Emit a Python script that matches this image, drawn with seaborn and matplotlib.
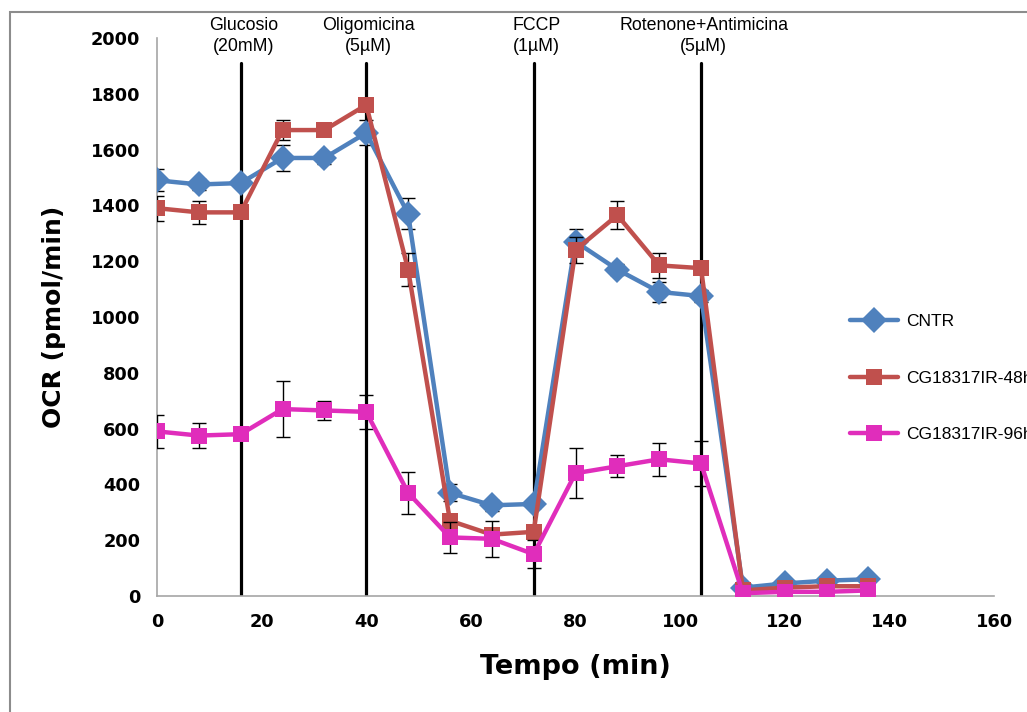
import matplotlib
matplotlib.use("Agg")
import matplotlib.pyplot as plt
import seaborn as sns
import pandas as pd
from matplotlib.patches import Rectangle
from matplotlib.lines import Line2D

time = [0, 8, 16, 24, 32, 40, 48, 56, 64, 72, 80, 88, 96, 104, 112, 120, 128, 136]
cntr = [1490, 1475, 1480, 1570, 1570, 1660, 1370, 370, 325, 330, 1270, 1170, 1090, 1075, 30, 45, 55, 60]
cntr_err = [40, 20, 15, 45, 20, 45, 55, 30, 20, 15, 45, 20, 35, 20, 5, 5, 5, 5]
cg48 = [1390, 1375, 1375, 1670, 1670, 1760, 1170, 270, 220, 230, 1240, 1365, 1185, 1175, 20, 30, 35, 35]
cg48_err = [45, 40, 15, 35, 15, 20, 60, 20, 20, 15, 45, 50, 45, 20, 5, 5, 5, 5]
cg96 = [590, 575, 580, 670, 665, 660, 370, 210, 205, 150, 440, 465, 490, 475, 10, 15, 15, 20]
cg96_err = [60, 45, 20, 100, 35, 60, 75, 55, 65, 50, 90, 40, 60, 80, 5, 5, 5, 5]

series_names = ["CNTR", "CG18317IR-48h", "CG18317IR-96h"]
colors = ["#4F81BD", "#C0504D", "#E02DBB"]
markers = ["D", "s", "s"]
msizes = [13, 12, 12]

injections = [16, 40, 72, 104]
inj_labels = ["Glucosio\n(20mM)", "Oligomicina\n(5µM)", "FCCP\n(1µM)", "Rotenone+Antimicina\n(5µM)"]

sns.set_style("white")
plt.rcParams['font.family'] = ['DejaVu Sans']
plt.rcParams['text.color'] = 'black'
plt.rcParams['axes.labelcolor'] = 'black'
plt.rcParams['xtick.color'] = 'black'
plt.rcParams['ytick.color'] = 'black'

fig = plt.figure(figsize=(10.27, 7.12), dpi=100)
fig.patches.append(Rectangle((10/1027, -0.1), 1.2, 1 - 12/712 + 0.1, transform=fig.transFigure,
                             fill=False, edgecolor="#8c8c8c", linewidth=1.5))
ax = fig.add_axes([157/1027, 1 - 596/712, (994 - 157)/1027, (596 - 38)/712])

# injection lines
for xi in injections:
    ax.plot([xi, xi], [0, 1910], color="black", linewidth=2.3, zorder=1)

for i, (vals, errs) in enumerate([(cntr, cntr_err), (cg48, cg48_err), (cg96, cg96_err)]):
    df = pd.DataFrame({"Tempo": time, "OCR": vals})
    ax.errorbar(time, vals, yerr=errs, fmt="none", ecolor="black", elinewidth=1,
                capsize=5, capthick=1, zorder=2 + i * 2)
    sns.lineplot(data=df, x="Tempo", y="OCR", ax=ax, color=colors[i], linewidth=3.2,
                 marker=markers[i], markersize=msizes[i], markeredgewidth=0,
                 markeredgecolor=colors[i], zorder=3 + i * 2)

ax.set_xlim(0, 160)
ax.set_ylim(0, 2000)
ax.set_xticks(range(0, 161, 20))
ax.set_yticks(range(0, 2001, 200))
for s in ["top", "right"]:
    ax.spines[s].set_visible(False)
for s in ["left", "bottom"]:
    ax.spines[s].set_color("#a6a6a6")
    ax.spines[s].set_linewidth(1.2)
ax.tick_params(axis="both", which="both", direction="out", length=6, width=1,
               color="#a6a6a6", labelcolor="black", labelsize=12.8, pad=6)
for lab in ax.get_xticklabels() + ax.get_yticklabels():
    lab.set_fontweight("bold")
ax.set_xlabel("Tempo (min)", fontsize=19.5, fontweight="bold", labelpad=17, color="black")
ax.set_ylabel("OCR (pmol/min)", fontsize=18, fontweight="bold", labelpad=18, color="black")

for xi, lab in zip(injections, inj_labels):
    ax.text(xi + 0.5, 0.970, lab, transform=ax.get_xaxis_transform(), ha="center", va="bottom",
            fontsize=12.8, family="Liberation Sans", linespacing=1.25, clip_on=False, color="black")

handles = [Line2D([], [], color=c, marker=m, markersize=ms, linewidth=3.2, markeredgewidth=0)
           for c, m, ms in zip(colors, markers, msizes)]
leg = fig.legend(handles, series_names, loc="upper left", bbox_to_anchor=(834/1027, 1 - 298/712),
                 frameon=False, prop={"family": "Liberation Sans", "size": 12.5},
                 handlelength=2.8, labelspacing=2.4, handletextpad=0.45)
for t in leg.get_texts():
    t.set_color("black")

fig.savefig("out.png", dpi=100)
